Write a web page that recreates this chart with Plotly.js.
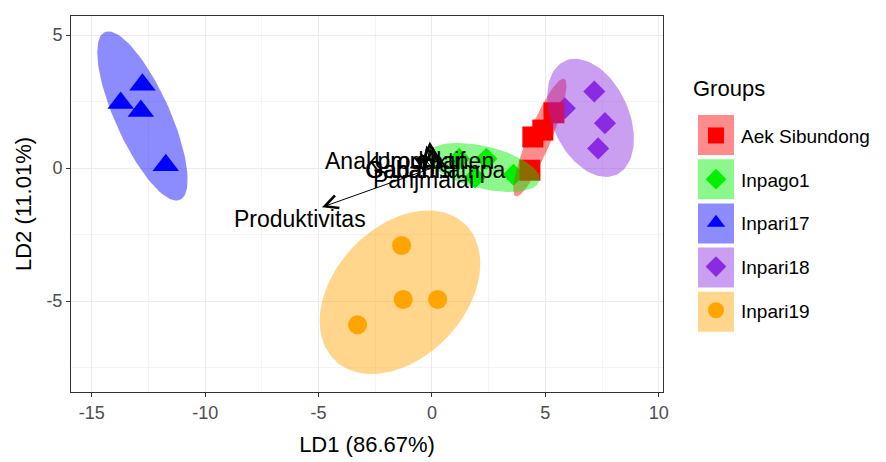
<!DOCTYPE html>
<html>
<head>
<meta charset="utf-8">
<script src="https://cdn.plot.ly/plotly-3.0.1.min.js"></script>
<style>
  html, body { margin: 0; padding: 0; background: #ffffff; }
  #chart { width: 886px; height: 462px; }
</style>
</head>
<body>
<div id="chart"></div>
<script>
// ---------------- data ----------------
const groups = ["Aek Sibundong", "Inpago1", "Inpari17", "Inpari18", "Inpari19"];

const aekLD1 = [4.45, 4.89, 5.38, 4.32];
const aekLD2 = [1.17, 1.43, 2.08, -0.08];

const inpago1LD1 = [1.2, 2.4, 3.6, 1.9];
const inpago1LD2 = [0.35, 0.35, -0.25, -0.35];

const inpari17LD1 = [-12.77, -13.73, -12.84, -11.74];
const inpari17LD2 = [3.13, 2.45, 2.15, 0.11];

const inpari18LD1 = [7.16, 7.63, 7.33, 5.86];
const inpari18LD2 = [2.88, 1.69, 0.74, 2.25];

const inpari19LD1 = [-1.34, -1.27, 0.25, -3.28];
const inpari19LD2 = [-2.91, -4.94, -4.94, -5.89];

// variable loadings (arrow tips) and label positions
const varNames = ["Anakproduktif", "Umurpanen", "Gabahisi", "Gabahhampa", "Panjmalai", "Produktivitas"];
const vecLD1 = [-0.5, -0.1, -0.25, 0.05, -0.8, -4.85];
const vecLD2 = [0.55, 1.0, 0.85, 0.8, 0.4, -1.47];
const labLD1 = [-1.63, 0.11, -0.95, 0.2, -0.37, -5.84];
const labLD2 = [0.26, 0.26, -0.08, -0.08, -0.45, -1.92];

const xTicks = [-15, -10, -5, 0, 5, 10];
const yTicks = [-5, 0, 5];

// ---------------- styles ----------------
const FONT = "Liberation Sans, Arial, sans-serif";
const styles = {
  "Aek Sibundong": { color: "#FF0000", fill: "rgba(255,0,0,0.45)",    symbol: "square",      size: 21 },
  "Inpago1":       { color: "#00F000", fill: "rgba(0,240,0,0.45)",    symbol: "diamond",     size: 17 },
  "Inpari17":      { color: "#0000FF", fill: "rgba(0,0,255,0.45)",    symbol: "triangle-up", size: 23 },
  "Inpari18":      { color: "#8A2BE2", fill: "rgba(138,43,226,0.45)", symbol: "diamond",     size: 17 },
  "Inpari19":      { color: "#FFA500", fill: "rgba(255,165,0,0.45)",  symbol: "circle",      size: 19 }
};
const groupData = {
  "Aek Sibundong": [aekLD1, aekLD2],
  "Inpago1": [inpago1LD1, inpago1LD2],
  "Inpari17": [inpari17LD1, inpari17LD2],
  "Inpari18": [inpari18LD1, inpari18LD2],
  "Inpari19": [inpari19LD1, inpari19LD2]
};

// normal-theory 95% ellipse (as ggord does): mean + circle %*% chol(cov) * sqrt(qchisq(.95, 2))
function ellipse(xs, ys) {
  const n = xs.length;
  const mx = xs.reduce((a, b) => a + b, 0) / n;
  const my = ys.reduce((a, b) => a + b, 0) / n;
  let sxx = 0, syy = 0, sxy = 0;
  for (let i = 0; i < n; i++) {
    sxx += (xs[i] - mx) ** 2; syy += (ys[i] - my) ** 2; sxy += (xs[i] - mx) * (ys[i] - my);
  }
  sxx /= (n - 1); syy /= (n - 1); sxy /= (n - 1);
  const u11 = Math.sqrt(sxx), u12 = sxy / u11, u22 = Math.sqrt(Math.max(syy - u12 * u12, 0));
  const ed = Math.sqrt(-2 * Math.log(0.05));
  const ex = [], ey = [];
  for (let k = 0; k <= 100; k++) {
    const t = -Math.PI + 2 * Math.PI * k / 100;
    const c = Math.cos(t), s = Math.sin(t);
    ex.push(mx + ed * c * u11);
    ey.push(my + ed * (c * u12 + s * u22));
  }
  return [ex, ey];
}

const traces = [];
// points first (drawn under the ellipses); order so Aek Sibundong sits on top
const drawOrder = ["Inpari18", "Inpari19", "Inpari17", "Inpago1", "Aek Sibundong"];
drawOrder.forEach(g => {
  const st = styles[g];
  traces.push({
    type: "scatter", mode: "markers", name: g,
    x: groupData[g][0], y: groupData[g][1],
    legendgroup: g, legendrank: groups.indexOf(g) + 1,
    marker: { color: st.color, symbol: st.symbol, size: st.size, line: { width: 0 } },
    hoverinfo: "x+y+name"
  });
});
// ellipses on top, translucent
groups.forEach(g => {
  const st = styles[g];
  const e = ellipse(groupData[g][0], groupData[g][1]);
  traces.push({
    type: "scatter", mode: "lines", x: e[0], y: e[1],
    fill: "toself", fillcolor: st.fill, line: { width: 0, color: st.fill },
    showlegend: false, hoverinfo: "skip", legendgroup: g
  });
});

// arrows and their labels
const annotations = [];
varNames.forEach((v, i) => {
  annotations.push({
    x: vecLD1[i], y: vecLD2[i], xref: "x", yref: "y",
    ax: 0, ay: 0, axref: "x", ayref: "y",
    text: "", showarrow: true, arrowhead: 5, arrowsize: 2.6, arrowwidth: 1, arrowcolor: "#000000"
  });
});
varNames.forEach((v, i) => {
  annotations.push({
    x: labLD1[i], y: labLD2[i], xref: "x", yref: "y",
    text: v, showarrow: false, xanchor: "center", yanchor: "middle",
    font: { family: FONT, size: 23, color: "#000000" }
  });
});

// legend key backgrounds (ellipse colour squares behind the legend symbols)
const shapes = groups.map((g, i) => {
  const top = 115 + 44.2 * i, bottom = top + 40;
  return {
    type: "rect", xref: "paper", yref: "paper",
    x0: (698 - 71) / 592, x1: (734 - 71) / 592,
    y0: (392 - bottom) / 376, y1: (392 - top) / 376,
    fillcolor: styles[g].fill, line: { width: 0 }, layer: "above"
  };
});

const axisCommon = {
  showgrid: true, gridcolor: "#EBEBEB", gridwidth: 1,
  zeroline: false, showline: true, mirror: true, linecolor: "#333333", linewidth: 1,
  ticks: "outside", ticklen: 4, tickcolor: "#333333", tickwidth: 1,
  tickfont: { family: FONT, size: 18, color: "#4D4D4D" },
  tickmode: "array"
};

const layout = {
  width: 886, height: 462,
  paper_bgcolor: "#FFFFFF", plot_bgcolor: "#FFFFFF",
  margin: { l: 71, r: 223, t: 16, b: 70, autoexpand: false },
  xaxis: Object.assign({}, axisCommon, {
    range: [-15.92, 10.19], tickvals: xTicks, ticktext: xTicks.map(String),
    minor: { showgrid: true, gridcolor: "#F0F0F0", gridwidth: 0.7, tickmode: "array", tickvals: [-12.5, -7.5, -2.5, 2.5, 7.5] },
    title: { text: "LD1 (86.67%)", font: { family: FONT, size: 22, color: "#000000" }, standoff: 15 }
  }),
  yaxis: Object.assign({}, axisCommon, {
    range: [-8.42, 5.72], tickvals: yTicks, ticktext: yTicks.map(String),
    minor: { showgrid: true, gridcolor: "#F0F0F0", gridwidth: 0.7, tickmode: "array", tickvals: [-7.5, -2.5, 2.5] },
    title: { text: "LD2 (11.01%)", font: { family: FONT, size: 22, color: "#000000" }, standoff: 8 }
  }),
  showlegend: true,
  legend: {
    x: (691 - 71) / 592, xanchor: "left", y: (392 - 75) / 376, yanchor: "top",
    title: { text: "<span style='font-size:22px'>Groups</span><br> ", font: { family: FONT, size: 16, color: "#000000" } },
    font: { family: FONT, size: 19, color: "#000000" },
    bgcolor: "rgba(0,0,0,0)", borderwidth: 0, tracegroupgap: 16, itemwidth: 40
  },
  annotations: annotations,
  shapes: shapes
};

Plotly.newPlot("chart", traces, layout, { displayModeBar: false, staticPlot: true });
</script>
</body>
</html>
